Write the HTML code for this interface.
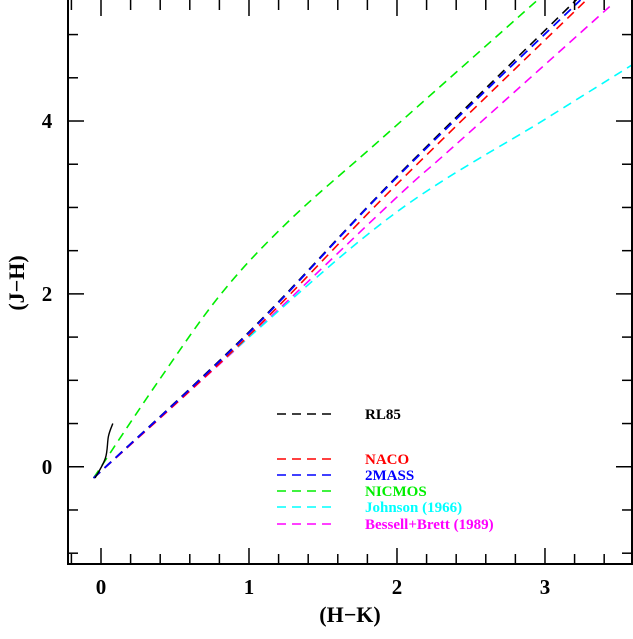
<!DOCTYPE html>
<html><head><meta charset="utf-8"><style>
html,body{margin:0;padding:0;background:#fff;}
svg text{font-family:"Liberation Serif",serif;font-weight:bold;}
</style></head><body>
<svg id="chart" width="633" height="634" xmlns="http://www.w3.org/2000/svg"></svg>
<script>
const xTicks=[0,1,2,3];
const yTicks=[0,2,4];
const rl85Solid=[[-0.04,-0.13],[0.03,0.1],[0.05,0.35],[0.08,0.5]];
const rl85X=[-0.05,1,2,3.24];
const rl85Y=[-0.13,1.56,3.36,5.45];
const nacoX=[-0.05,1,2,3.28];
const nacoY=[-0.13,1.52,3.27,5.4];
const twomassX=[-0.05,1,2,3.24];
const twomassY=[-0.13,1.55,3.35,5.4];
const nicmosX=[-0.05,0.38,0.82,1.28,1.885,2.95];
const nicmosY=[-0.13,0.97,2.02,2.86,3.78,5.4];
const johnsonX=[-0.05,1,2,3,3.59];
const johnsonY=[-0.13,1.5,2.95,4.02,4.65];
const bessellX=[-0.05,1,2,2.38,3.46];
const bessellY=[-0.13,1.5,3.12,3.70,5.36];
const seriesNames=["NACO","2MASS","NICMOS","Johnson (1966)","Bessell+Brett (1989)"];
const seriesColors=["#ff0000","#0000ff","#00ee00","#00ffff","#ff00ff"];

const L=68,R=632,T=0,B=564;
const x0=-0.223,x1=3.588,y0=-1.125,y1=5.4;
const sx=v=>L+(v-x0)/(x1-x0)*(R-L);
const sy=v=>B-(v-y0)/(y1-y0)*(B-T);
const svg=document.getElementById('chart');
const NS="http://www.w3.org/2000/svg";
function mk(tag,attrs,parent){const e=document.createElementNS(NS,tag);for(const k in attrs)e.setAttribute(k,attrs[k]);(parent||svg).appendChild(e);return e;}

const clip=mk('clipPath',{id:'pc'});mk('rect',{x:L,y:T,width:R-L,height:B-T},clip);
const g=mk('g',{'clip-path':'url(#pc)'});



function smoothPath(xs,ys){
  const P=xs.map((x,i)=>[sx(x),sy(ys[i])]);
  let d='M'+P[0][0].toFixed(1)+' '+P[0][1].toFixed(1);
  for(let i=0;i<P.length-1;i++){
    const p0=P[Math.max(0,i-1)],p1=P[i],p2=P[i+1],p3=P[Math.min(P.length-1,i+2)];
    const c1=[p1[0]+(p2[0]-p0[0])/6,p1[1]+(p2[1]-p0[1])/6];
    const c2=[p2[0]-(p3[0]-p1[0])/6,p2[1]-(p3[1]-p1[1])/6];
    d+=' C'+c1.map(v=>v.toFixed(1)).join(' ')+' '+c2.map(v=>v.toFixed(1)).join(' ')+' '+p2.map(v=>v.toFixed(1)).join(' ');
  }
  return d;
}
function line(xs,ys,color,dash,name,w){
  const p=mk('path',{d:smoothPath(xs,ys),fill:'none',stroke:color,'stroke-width':w||1.6,'stroke-dasharray':dash||'none'},g);
  
  
}
line(bessellX,bessellY,seriesColors[4],'9 6','bessell-line');
line(johnsonX,johnsonY,seriesColors[3],'9 6','johnson-line');
line(nicmosX,nicmosY,seriesColors[2],'9 6','nicmos-line');
line(nacoX,nacoY,seriesColors[0],'9 6','naco-line');
line(rl85X,rl85Y,'#000','9 6','rl85-dashed-line');
line(twomassX,twomassY,seriesColors[1],'9 6','twomass-line',1.8);
line(rl85Solid.map(p=>p[0]),rl85Solid.map(p=>p[1]),'#000',null,'rl85-solid-line',1.4);

const fr=mk('rect',{x:L,y:T-1,width:R-L,height:B-T+1,fill:'none',stroke:'#000','stroke-width':2});


for(let v=-0.2;v<=3.6;v+=0.2){const x=sx(+v.toFixed(1));const major=Math.abs(v-Math.round(v))<1e-6;const len=major?16:10;
  mk('line',{x1:x,y1:B,x2:x,y2:B-len,stroke:'#000','stroke-width':1.5});
  mk('line',{x1:x,y1:T,x2:x,y2:T+len,stroke:'#000','stroke-width':1.5});}
for(let v=-1;v<=5.4;v+=0.5){const y=sy(v);const major=Math.abs(v/2-Math.round(v/2))<1e-6;const len=major?16:10;
  mk('line',{x1:L,y1:y,x2:L+len,y2:y,stroke:'#000','stroke-width':1.5});
  mk('line',{x1:R,y1:y,x2:R-len,y2:y,stroke:'#000','stroke-width':1.5});}
xTicks.forEach(v=>{const t=mk('text',{x:sx(v),y:594,'font-size':21,'text-anchor':'middle'});t.textContent=v;
  
  });
yTicks.forEach(v=>{const t=mk('text',{x:47,y:sy(v)+7,'font-size':21,'text-anchor':'middle'});t.textContent=v;
  
  });
const xt=mk('text',{x:350,y:622,'font-size':22,'text-anchor':'middle'});xt.textContent='(H\u2212K)';


const yt=mk('text',{x:0,y:0,'font-size':22,'text-anchor':'middle',transform:'translate(24,283) rotate(-90)'});yt.textContent='(J\u2212H)';



function leg(y,color,label,name){
  const l=mk('line',{x1:277,y1:y,x2:335,y2:y,stroke:color,'stroke-width':1.6,'stroke-dasharray':'9 6'});
  
  
  const t=mk('text',{x:365,y:y+5,'font-size':15,fill:color});t.textContent=label;
  
  
}
leg(414,'#000','RL85','legend-rl85');
const ly=[459,475,491,507,524];
seriesNames.forEach((n,i)=>leg(ly[i],seriesColors[i],n,'legend-entry-'+i));
</script>
</body></html>
